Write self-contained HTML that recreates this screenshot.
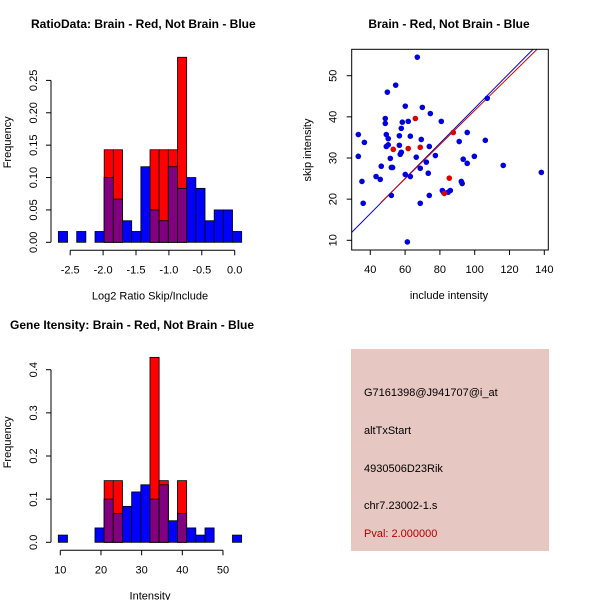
<!DOCTYPE html>
<html><head><meta charset="utf-8"><style>
body{margin:0;background:#fff}
svg{display:block;font-family:"Liberation Sans",sans-serif}
</style></head><body>
<svg id="s" width="600" height="600" viewBox="0 0 600 600">
<rect width="600" height="600" fill="#fff"/>
<g id="h1"></g>
<g id="sc"></g>
<g id="h2"></g>
<g>
<rect x="351" y="349" width="198" height="202" fill="#e6c7c1"/>
<text x="364" y="396" font-size="11" fill="#000">G7161398@J941707@i_at</text>
<text x="364" y="434" font-size="11" fill="#000">altTxStart</text>
<text x="364" y="472" font-size="11" fill="#000">4930506D23Rik</text>
<text x="364" y="509" font-size="11" fill="#000">chr7.23002-1.s</text>
<text x="364" y="537" font-size="11" fill="#b00000">Pval: 2.000000</text>
</g>
</svg>
<script>
const NS="http://www.w3.org/2000/svg";
// ratio histogram data
const h1Start=-2.68, h1Width=0.1393;
const h1Blue=[0.0167,0,0.0167,0,0.0167,0.1,0.0667,0.0333,0.0167,0.1167,0.05,0.0333,0.1167,0.0833,0.1,0.0833,0.0333,0.05,0.05,0.0167];
const h1Red=[0,0,0,0,0,0.1429,0.1429,0,0,0,0.1429,0.1429,0.1429,0.2857,0,0,0,0,0,0];
const h1XTicks=[-2.5,-2.0,-1.5,-1.0,-0.5,0.0];
const h1XLabels=["-2.5","-2.0","-1.5","-1.0","-0.5","0.0"];
const h1YTicks=[0,0.05,0.10,0.15,0.20,0.25];
const h1YLabels=["0.00","0.05","0.10","0.15","0.20","0.25"];
// intensity histogram data
const h2Start=9.51, h2Width=2.254;
const h2Blue=[0.0167,0,0,0,0.0333,0.1,0.0667,0.0833,0.1167,0.1333,0.1,0.1333,0.05,0.0667,0.0333,0.0167,0.0333,0,0,0.0167];
const h2Red=[0,0,0,0,0,0.1429,0.1429,0,0,0,0.4286,0.1429,0,0.1429,0,0,0,0,0,0];
const h2XTicks=[10,20,30,40,50];
const h2XLabels=["10","20","30","40","50"];
const h2YTicks=[0,0.1,0.2,0.3,0.4];
const h2YLabels=["0.0","0.1","0.2","0.3","0.4"];
// scatter data
const blueX=[67,33.1,33.1,35.2,35.9,36.6,43.3,45.7,46.3,49.8,54.6,48.6,48.6,49.2,50.3,49.2,50.3,51.5,52.1,52.8,52.1,60.1,58.4,57.8,56.7,56.7,57.2,57.8,61.8,63.0,60.1,63.0,61.3,66.4,69.3,69.9,68.7,68.7,72.2,73.3,73.9,74.5,73.9,77.4,80.8,81.4,82.0,84.8,86.0,91.1,92.3,92.8,93.4,95.7,95.7,99.8,106.1,107.2,116.4,138.3];
const blueY=[54.5,35.7,30.4,24.3,19.0,33.8,25.5,24.8,28.0,46.0,47.7,39.6,38.4,35.7,34.7,32.8,33.2,29.9,27.7,27.7,20.9,42.6,38.7,37.2,35.4,33.1,30.9,31.4,38.9,35.3,26.0,25.5,9.6,30.2,34.5,42.3,27.5,19.0,29.0,26.3,32.8,40.8,20.9,30.6,38.9,22.1,21.7,21.7,22.1,34.0,24.3,23.8,29.7,36.2,28.7,30.4,34.3,44.5,28.2,26.5];
const redX=[65.9,53.2,61.8,68.7,87.7,85.4,82.5];
const redY=[39.6,32.1,32.3,32.6,36.2,25.1,21.4];
const blueLine=[0.427,-0.6];
const redLine=[0.415,0.05];
const scXTicks=[40,60,80,100,120,140];
const scYTicks=[10,20,30,40,50];

function el(parent,tag,attrs){const e=document.createElementNS(NS,tag);for(const k in attrs)e.setAttribute(k,attrs[k]);parent.appendChild(e);return e;}
function txt(parent,x,y,s,size,extra){const t=el(parent,'text',Object.assign({x:x,y:y,'font-size':size,fill:'#000'},extra||{}));t.textContent=s;return t;}

function hist(g,cfg){
  const sx=v=>cfg.x0+(v-cfg.xv0)*cfg.kx, sy=v=>cfg.base-v*cfg.ky;
  for(let i=0;i<cfg.blue.length;i++){
    const l=sx(cfg.start+i*cfg.w), r=sx(cfg.start+(i+1)*cfg.w);
    const b=cfg.blue[i], rd=cfg.red[i], m=Math.min(b,rd);
    if(b>0){const e=el(g,'rect',{x:l,y:sy(b),width:r-l,height:sy(0)-sy(b),fill:'#0000ff',stroke:'#000','stroke-width':0.8});
      
      }
    if(rd>0){const e=el(g,'rect',{x:l,y:sy(rd),width:r-l,height:sy(0)-sy(rd),fill:'#ff0000',stroke:'#000','stroke-width':0.8});
      
      }
    if(m>0){const e=el(g,'rect',{x:l,y:sy(m),width:r-l,height:sy(0)-sy(m),fill:'#800080',stroke:'#000','stroke-width':0.8});
      
      }
  }
  const xa=el(g,'g',{});
  
  
  const xt0=sx(cfg.xt[0]), xt1=sx(cfg.xt[cfg.xt.length-1]), ay=cfg.base+8;
  el(xa,'line',{x1:xt0,y1:ay,x2:xt1,y2:ay,stroke:'#000'});
  cfg.xt.forEach((v,i)=>{el(xa,'line',{x1:sx(v),y1:ay,x2:sx(v),y2:ay+5,stroke:'#000'});
    txt(xa,sx(v),ay+23,cfg.xl[i],11,{'text-anchor':'middle'});});
  const ya=el(g,'g',{});
  
  
  el(ya,'line',{x1:51,y1:sy(cfg.yt[0]),x2:51,y2:sy(cfg.yt[cfg.yt.length-1]),stroke:'#000'});
  cfg.yt.forEach((v,i)=>{el(ya,'line',{x1:46,y1:sy(v),x2:51,y2:sy(v),stroke:'#000'});
    txt(ya,0,0,cfg.yl[i],11,{'text-anchor':'middle',transform:`translate(37,${sy(v)}) rotate(-90)`});});
  const t=txt(g,cfg.titleX,cfg.titleY,cfg.title,12,{'font-weight':'bold'});
  
  
  const xl=txt(g,150,cfg.base+57,cfg.xlab,11,{'text-anchor':'middle'});
  
  
  const yl=txt(g,0,0,'Frequency',11,{'text-anchor':'middle',transform:`translate(11,${cfg.base-100}) rotate(-90)`});
  
  
}
hist(document.getElementById('h1'),{start:h1Start,w:h1Width,blue:h1Blue,red:h1Red,x0:234.7,xv0:0,kx:65.8,base:242.3,ky:647.6,
  xt:h1XTicks,xl:h1XLabels,yt:h1YTicks,yl:h1YLabels,title:'RatioData: Brain - Red, Not Brain - Blue',titleX:31,titleY:28,xlab:'Log2 Ratio Skip/Include'});
hist(document.getElementById('h2'),{start:h2Start,w:h2Width,blue:h2Blue,red:h2Red,x0:60.3,xv0:10,kx:4.067,base:542.3,ky:431.5,
  xt:h2XTicks,xl:h2XLabels,yt:h2YTicks,yl:h2YLabels,title:'Gene Itensity: Brain - Red, Not Brain - Blue',titleX:10,titleY:329,xlab:'Intensity'});

(function(){
  const g=document.getElementById('sc');
  const L=351.7,R=548.3,T=49.3,B=250;
  const sx=v=>370.3+(v-40)*1.74, sy=v=>240.3-(v-10)*4.115;
  const defs=el(g,'defs',{});const cp=el(defs,'clipPath',{id:'cp'});el(cp,'rect',{x:L,y:T,width:R-L,height:B-T});
  const lg=el(g,'g',{'clip-path':'url(#cp)'});
  const xmin=(L-370.3)/1.74+40, xmax=(R-370.3)/1.74+40;
  const bl=el(lg,'line',{x1:sx(xmin),y1:sy(blueLine[0]*xmin+blueLine[1]),x2:sx(xmax),y2:sy(blueLine[0]*xmax+blueLine[1]),stroke:'#0000cc','stroke-width':1});
  
  
  const rl=el(lg,'line',{x1:sx(46),y1:sy(redLine[0]*46+redLine[1]),x2:sx(xmax),y2:sy(redLine[0]*xmax+redLine[1]),stroke:'#cc0000','stroke-width':1});
  
  
  blueX.forEach((x,i)=>{const c=el(g,'circle',{cx:sx(x),cy:sy(blueY[i]),r:2.8,fill:'#0000dd'});
    
    });
  redX.forEach((x,i)=>{const c=el(g,'circle',{cx:sx(x),cy:sy(redY[i]),r:2.8,fill:'#dd0000'});
    
    });
  el(g,'rect',{x:L,y:T,width:R-L,height:B-T,fill:'none',stroke:'#000'});
  scXTicks.forEach(v=>{el(g,'line',{x1:sx(v),y1:B,x2:sx(v),y2:B+5,stroke:'#000'});txt(g,sx(v),B+23,String(v),11,{'text-anchor':'middle'});});
  scYTicks.forEach(v=>{el(g,'line',{x1:L-5,y1:sy(v),x2:L,y2:sy(v),stroke:'#000'});txt(g,0,0,String(v),11,{'text-anchor':'middle',transform:`translate(${L-15},${sy(v)}) rotate(-90)`});});
  const t=txt(g,449,28,'Brain - Red, Not Brain - Blue',12,{'font-weight':'bold','text-anchor':'middle'});
  
  
  const xl=txt(g,449,299,'include intensity',11,{'text-anchor':'middle'});
  
  
  const yl=txt(g,0,0,'skip intensity',11,{'text-anchor':'middle',transform:'translate(311,150) rotate(-90)'});
  
  
})();
</script>
</body></html>
